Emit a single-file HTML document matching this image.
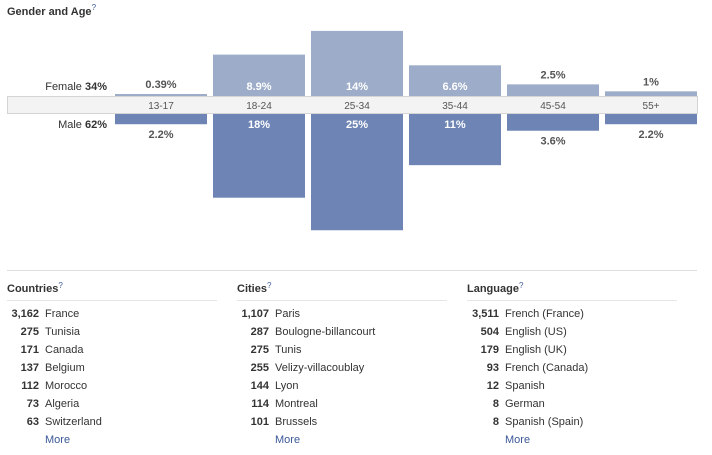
<!DOCTYPE html>
<html><head><meta charset="utf-8">
<style>
body{margin:0;width:712px;height:455px;background:#fff;font-family:"Liberation Sans",Arial,sans-serif;color:#333;position:relative;overflow:hidden}
.h{position:absolute;font-weight:bold;font-size:11px;color:#333}
.h sup{color:#3b5998;font-weight:normal;font-size:8px;vertical-align:top;position:relative;top:-3px}
.col{position:absolute;top:281px;width:210px}
.col .t{font-weight:bold;font-size:11px;height:19px;border-bottom:1px solid #e5e5e5;line-height:16px}
.col .t sup{color:#3b5998;font-weight:normal;font-size:8px;vertical-align:top;position:relative;top:-3px}
.row{height:18px;line-height:18px;font-size:11px;white-space:nowrap}
.row b{display:inline-block;width:32px;text-align:right;margin-right:6px}
.row a{color:#3b5998;text-decoration:none;margin-left:38px}
</style></head><body>
<div class="h" style="left:7px;top:6px">Gender and Age<sup>?</sup></div>
<svg id="chart" width="712" height="260" style="position:absolute;left:0;top:0" font-family="Liberation Sans, Arial, sans-serif"></svg>
<div style="position:absolute;left:7px;top:270px;width:690px;border-top:1px solid #ddd"></div>

<div class="col" style="left:7px">
<div class="t">Countries<sup>?</sup></div>
<div style="height:4px"></div>
<div class="row"><b>3,162</b>France</div>
<div class="row"><b>275</b>Tunisia</div>
<div class="row"><b>171</b>Canada</div>
<div class="row"><b>137</b>Belgium</div>
<div class="row"><b>112</b>Morocco</div>
<div class="row"><b>73</b>Algeria</div>
<div class="row"><b>63</b>Switzerland</div>
<div class="row"><a href="#">More</a></div>
</div>
<div class="col" style="left:237px">
<div class="t">Cities<sup>?</sup></div>
<div style="height:4px"></div>
<div class="row"><b>1,107</b>Paris</div>
<div class="row"><b>287</b>Boulogne-billancourt</div>
<div class="row"><b>275</b>Tunis</div>
<div class="row"><b>255</b>Velizy-villacoublay</div>
<div class="row"><b>144</b>Lyon</div>
<div class="row"><b>114</b>Montreal</div>
<div class="row"><b>101</b>Brussels</div>
<div class="row"><a href="#">More</a></div>
</div>
<div class="col" style="left:467px">
<div class="t">Language<sup>?</sup></div>
<div style="height:4px"></div>
<div class="row"><b>3,511</b>French (France)</div>
<div class="row"><b>504</b>English (US)</div>
<div class="row"><b>179</b>English (UK)</div>
<div class="row"><b>93</b>French (Canada)</div>
<div class="row"><b>12</b>Spanish</div>
<div class="row"><b>8</b>German</div>
<div class="row"><b>8</b>Spanish (Spain)</div>
<div class="row"><a href="#">More</a></div>
</div>

<script>
const categories=["13-17","18-24","25-34","35-44","45-54","55+"];
const female=[0.39,8.9,14,6.6,2.5,1];
const male=[2.2,18,25,11,3.6,2.2];
const femaleLabels=["0.39%","8.9%","14%","6.6%","2.5%","1%"];
const maleLabels=["2.2%","18%","25%","11%","3.6%","2.2%"];
const totals=["Female","34%","Male","62%"];

const svg=document.getElementById('chart');
const NS="http://www.w3.org/2000/svg";
const bandTop=96,bandBot=114,scale=4.65,x0=115,pitch=98,bw=92;
function xPos(i){return x0+i*pitch;}
function h(v){return Math.max(2,v*scale);}
function mk(t,a){const e=document.createElementNS(NS,t);for(const k in a)e.setAttribute(k,a[k]);svg.appendChild(e);return e;}
function txt(x,y,s,o){const e=mk('text',Object.assign({x:x,y:y,'font-size':11},o||{}));e.textContent=s;return e;}

categories.forEach((c,i)=>{
  const fh=h(female[i]);
  const fb=mk('rect',{x:xPos(i),y:bandTop-fh,width:bw,height:fh,fill:'#9dacc9'});
  
  
  const mh=h(male[i]);
  const mb=mk('rect',{x:xPos(i),y:bandBot,width:bw,height:mh,fill:'#6d84b4'});
  
  
});
const band=mk('rect',{x:7.5,y:bandTop+0.5,width:690,height:bandBot-bandTop-1,fill:'#f3f3f3',stroke:'#d4d4d4'});


categories.forEach((c,i)=>{
  const cx=xPos(i)+bw/2;
  const t=txt(cx,bandTop+13,c,{'text-anchor':'middle',fill:'#555','font-size':10});
  
  
  const fh=h(female[i]);
  const fin=fh>28;
  const ft=txt(cx,fin?bandTop-6:bandTop-fh-6,femaleLabels[i],{'text-anchor':'middle','font-weight':'bold',fill:fin?'#fff':'#555'});
  
  
  const mh=h(male[i]);
  const min=mh>28;
  const mt=txt(cx,min?bandBot+14:bandBot+mh+14,maleLabels[i],{'text-anchor':'middle','font-weight':'bold',fill:min?'#fff':'#555'});
  
  
});
const fl=txt(107,90,'',{'text-anchor':'end',fill:'#333'});
fl.innerHTML=totals[0]+'  <tspan font-weight="bold">'+totals[1]+'</tspan>';


const ml=txt(107,128,'',{'text-anchor':'end',fill:'#333'});
ml.innerHTML=totals[2]+'  <tspan font-weight="bold">'+totals[3]+'</tspan>';


</script>
</body></html>
